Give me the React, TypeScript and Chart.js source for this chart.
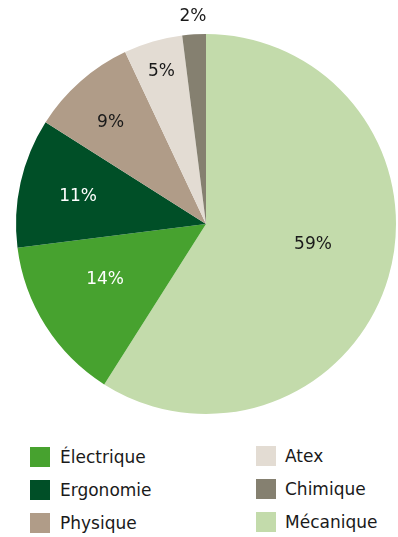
import React, { useEffect, useRef } from "react";
import { Chart, registerables } from "chart.js";

Chart.register(...registerables);

const categories = ["Mécanique", "Électrique", "Ergonomie", "Physique", "Atex", "Chimique"];
const values = [59, 14, 11, 9, 5, 2];
const colors = ["#c3dbab", "#47a22f", "#004f27", "#b09c88", "#e3dcd3", "#858070"];
const labelColors = ["#1a1a1a", "#ffffff", "#ffffff", "#1a1a1a", "#1a1a1a", "#1a1a1a"];
const legendColumns = [
  ["Électrique", "Ergonomie", "Physique"],
  ["Atex", "Chimique", "Mécanique"],
];

// label placement: fraction of radius, angle offset (degrees) from slice middle
const labelRadius = [0.573, 0.605, 0.69, 0.735, 0.84, 1.1];
const labelAngleOffset = [-5.6, 3.8, 0, -1.7, 0, 0];
const FONT = '"DejaVu Sans", "Noto Sans", sans-serif';

const pctPlugin = {
  id: "pctLabels",
  afterDatasetsDraw(chart: any) {
    const ctx = chart.ctx;
    const meta = chart.getDatasetMeta(0);
    ctx.save();
    ctx.font = `17px ${FONT}`;
    ctx.textAlign = "center";
    ctx.textBaseline = "middle";
    meta.data.forEach((arc: any, i: number) => {
      const { x, y, startAngle, endAngle, outerRadius } = arc.getProps(
        ["x", "y", "startAngle", "endAngle", "outerRadius"],
        true
      );
      const mid = (startAngle + endAngle) / 2 + (labelAngleOffset[i] * Math.PI) / 180;
      const r = outerRadius * labelRadius[i];
      ctx.fillStyle = labelColors[i];
      ctx.fillText(values[i] + "%", x + Math.cos(mid) * r, y + Math.sin(mid) * r + 1);
    });
    ctx.restore();
  },
};

export default function App() {
  const ref = useRef<HTMLCanvasElement | null>(null);
  useEffect(() => {
    if (!ref.current) return;
    const chart = new Chart(ref.current, {
      type: "pie",
      data: {
        labels: categories,
        datasets: [
          {
            data: values,
            backgroundColor: colors,
            borderWidth: 0,
          },
        ],
      },
      options: {
        animation: false,
        responsive: false,
        maintainAspectRatio: false,
        layout: { padding: { left: 16, right: 2, top: 34, bottom: 16 } },
        plugins: {
          legend: { display: false },
          tooltip: { enabled: false },
        },
      },
      plugins: [pctPlugin],
    });
    return () => chart.destroy();
  }, []);

  const colorOf = (name: string) => colors[categories.indexOf(name)];

  return (
    <div
      style={{
        position: "absolute",
        left: 0,
        top: 0,
        width: 398,
        height: 537,
        background: "#fff",
        fontFamily: FONT,
      }}
    >
      <canvas ref={ref} width={398} height={430} style={{ display: "block" }} />
      {legendColumns.map((col, ci) =>
        col.map((name, ri) => (
          <div
            key={name}
            style={{
              position: "absolute",
              left: ci === 0 ? 30 : 256,
              top: (ci === 0 ? 447 : 446) + ri * 33,
              height: 20,
              display: "flex",
              alignItems: "center",
              fontSize: 17,
              color: "#1a1a1a",
              whiteSpace: "nowrap",
            }}
          >
            <span
              style={{
                display: "inline-block",
                width: 20,
                height: 20,
                background: colorOf(name),
                marginRight: ci === 0 ? 10 : 9,
              }}
            />
            <span>{name}</span>
          </div>
        ))
      )}
    </div>
  );
}
